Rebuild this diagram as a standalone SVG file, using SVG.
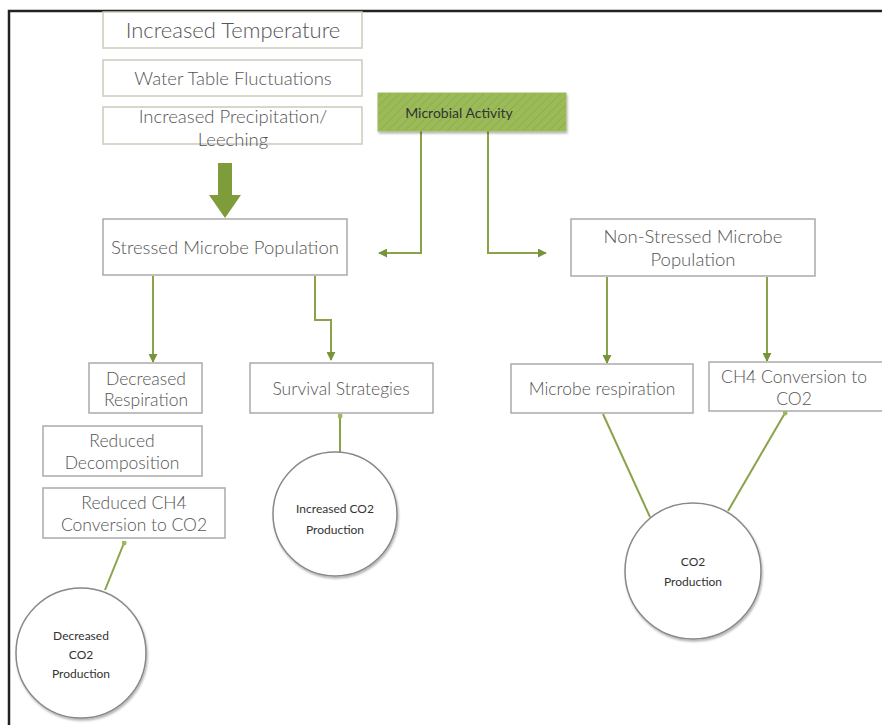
<svg xmlns="http://www.w3.org/2000/svg" width="882" height="725" viewBox="0 0 882 725">
<defs>
<pattern id="hatch" patternUnits="userSpaceOnUse" width="6" height="6" patternTransform="rotate(45)">
<rect width="6" height="6" fill="#9bbb59"/>
<line x1="0" y1="0" x2="0" y2="6" stroke="#8fae4f" stroke-width="2"/>
</pattern>
<marker id="ah" viewBox="0 0 10 10" refX="9" refY="5" markerWidth="4.5" markerHeight="4.5" orient="auto" markerUnits="strokeWidth">
<path d="M0,0 L10,5 L0,10 z" fill="#77933c"/>
</marker>
<marker id="dot" viewBox="0 0 10 10" refX="5" refY="5" markerWidth="2.5" markerHeight="2.5" markerUnits="strokeWidth">
<circle cx="5" cy="5" r="5" fill="#9bbb59"/>
</marker>
<filter id="sh" x="-10%" y="-10%" width="130%" height="130%">
<feDropShadow dx="1" dy="2" stdDeviation="1.2" flood-color="#000" flood-opacity="0.3"/>
</filter>
</defs>
<style>
.box{fill:#fff;stroke:#c9ccb9;stroke-width:1.5}
.box2{fill:#fff;stroke:#aaaaaa;stroke-width:1.5}
.circ{fill:#fff;stroke:#888;stroke-width:1.5}
.t{font-family:Lato,"Open Sans","Liberation Sans",sans-serif;font-weight:300;fill:#555;text-anchor:middle}
.tc{font-family:Lato,"Open Sans","Liberation Sans",sans-serif;font-weight:400;fill:#333;text-anchor:middle;font-size:12px}
.conn{fill:none;stroke:#8aa34a;stroke-width:2}
</style>
<rect width="882" height="725" fill="#fff"/>
<path d="M9,725 V11 H882" fill="none" stroke="#222" stroke-width="2.5"/>

<g id="connectors">
<path class="conn" d="M421,131 V253 H379" marker-end="url(#ah)"/>
<path class="conn" d="M488,131 V253 H546" marker-end="url(#ah)"/>
<path class="conn" d="M153,276 V362" marker-end="url(#ah)"/>
<path class="conn" d="M315,276 V320 H331 V360" marker-end="url(#ah)"/>
<path class="conn" d="M607,277 V363" marker-end="url(#ah)"/>
<path class="conn" d="M767,277 V361" marker-end="url(#ah)"/>
<path class="conn" d="M340,452 V416" marker-end="url(#dot)"/>
<path class="conn" d="M105,590 L124,543" marker-end="url(#dot)"/>
<path class="conn" d="M603,414 L650,517"/>
<path class="conn" d="M728,511 L785,413" marker-end="url(#dot)"/>
<path d="M218,163 H232 V195 H241 L225,218 L209,195 H218 Z" fill="#7f9c3a"/>
</g>

<g id="increased-temperature">
<rect class="box" x="103" y="12" width="259" height="36"/>
<text class="t" x="233" y="38" font-size="22">Increased Temperature</text>
</g>
<g id="water-table">
<rect class="box" x="103" y="60" width="259" height="36"/>
<text class="t" x="233" y="85" font-size="18.5">Water Table Fluctuations</text>
</g>
<g id="precipitation">
<rect class="box" x="103" y="107" width="259" height="37"/>
<text class="t" x="233" y="123" font-size="18.5">Increased Precipitation/</text>
<text class="t" x="233" y="146" font-size="18.5">Leeching</text>
</g>
<g id="microbial-activity">
<rect x="378" y="93" width="188" height="38" fill="url(#hatch)" stroke="#9bbb59" filter="url(#sh)"/>
<text class="t" x="459" y="118" font-size="14" style="fill:#333;font-weight:400">Microbial Activity</text>
</g>
<g id="stressed">
<rect class="box2" x="103" y="219" width="244" height="56"/>
<text class="t" x="225" y="254" font-size="18.5">Stressed Microbe Population</text>
</g>
<g id="non-stressed">
<rect class="box2" x="571" y="219" width="244" height="57"/>
<text class="t" x="693" y="243" font-size="18.5">Non-Stressed Microbe</text>
<text class="t" x="693" y="266" font-size="18.5">Population</text>
</g>
<g id="decreased-respiration">
<rect class="box2" x="89" y="363" width="113" height="50"/>
<text class="t" x="146" y="385" font-size="17.5">Decreased</text>
<text class="t" x="146" y="406" font-size="17.5">Respiration</text>
</g>
<g id="survival">
<rect class="box2" x="250" y="363" width="183" height="50"/>
<text class="t" x="341" y="395" font-size="17.5">Survival Strategies</text>
</g>
<g id="reduced-decomposition">
<rect class="box2" x="43" y="426" width="159" height="50"/>
<text class="t" x="122" y="447" font-size="17.5">Reduced</text>
<text class="t" x="122" y="469" font-size="17.5">Decomposition</text>
</g>
<g id="reduced-ch4">
<rect class="box2" x="43" y="488" width="182" height="50"/>
<text class="t" x="134" y="509" font-size="17.5">Reduced CH4</text>
<text class="t" x="134" y="531" font-size="17.5">Conversion to CO2</text>
</g>
<g id="microbe-respiration">
<rect class="box2" x="511" y="364" width="182" height="49"/>
<text class="t" x="602" y="395" font-size="17.5">Microbe respiration</text>
</g>
<g id="ch4-conversion">
<rect class="box2" x="709" y="362" width="180" height="49"/>
<text class="t" x="794" y="383" font-size="17.5">CH4 Conversion to</text>
<text class="t" x="794" y="405" font-size="17.5">CO2</text>
</g>
<g id="increased-co2">
<circle class="circ" cx="335" cy="514" r="62" filter="url(#sh)"/>
<text class="tc" x="335" y="513">Increased CO2</text>
<text class="tc" x="335" y="534">Production</text>
</g>
<g id="decreased-co2">
<circle class="circ" cx="81" cy="653" r="65" filter="url(#sh)"/>
<text class="tc" x="81" y="640">Decreased</text>
<text class="tc" x="81" y="659">CO2</text>
<text class="tc" x="81" y="678">Production</text>
</g>
<g id="co2-production">
<circle class="circ" cx="693" cy="571" r="68" filter="url(#sh)"/>
<text class="tc" x="693" y="566">CO2</text>
<text class="tc" x="693" y="586">Production</text>
</g>
</svg>
